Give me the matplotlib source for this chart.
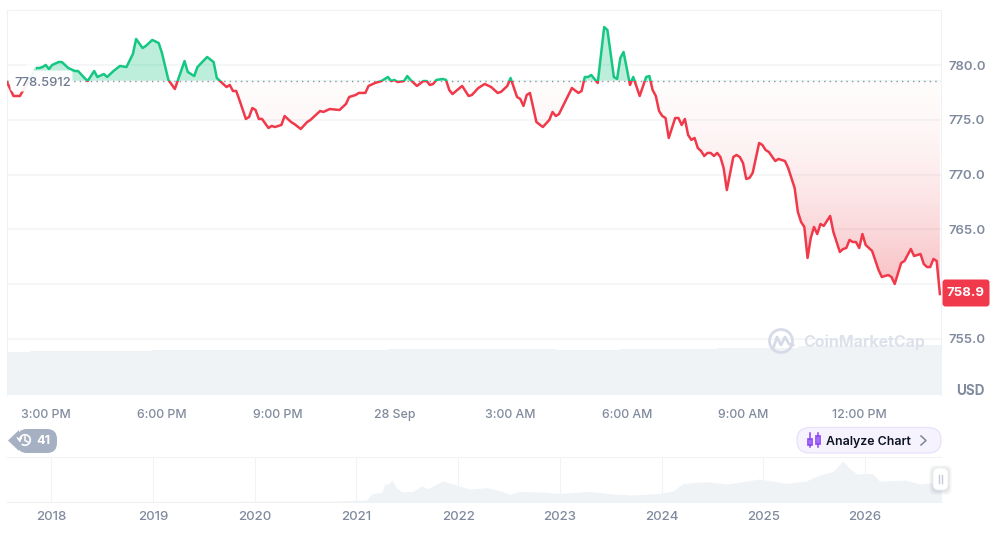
import numpy as np
import matplotlib
matplotlib.use("Agg")
import matplotlib.pyplot as plt
from matplotlib.patches import FancyBboxPatch, Polygon, Circle, Arc, Rectangle
from matplotlib.path import Path

# ---------- data ----------
five_min_index = [0,2,4,9,10,11,12,13,14,16,17,19,21,22,24,25,27,28,30,31,33,35,37,39,40,42,43,45,47,48,50,52,55,56,58,59,62,64,65,68,69,70,71,72,74,75,76,77,78,79,81,82,83,85,86,88,89,91,93,94,97,98,100,103,105,106,108,109,111,112,114,116,118,119,120,121,123,124,125,127,129,130,131,132,133,135,136,137,138,141,143,144,146,148,150,152,153,155,156,158,159,160,161,162,164,166,168,169,170,171,175,177,178,179,180,181,183,185,186,188,189,190,191,193,194,196,198,199,200,201,202,203,204,205,207,208,209,210,211,212,213,214,215,216,217,218,219,220,221,222,223,225,226,227,228,229,230,231,233,234,235,236,238,239,240,241,242,244,245,246,247,248,249,250,251,252,253,255,256,258,259,260,261,262,263,264,265,266,268,270,271,273,274,275,277,278,280,281,283,284,285,286,287,288,289]
price = [778.47,777.19,777.19,779.75,779.75,779.84,780.03,779.66,780.03,780.30,780.30,779.75,779.48,779.48,778.84,778.56,779.48,778.93,779.20,778.93,779.48,779.94,779.84,781.03,782.41,781.58,781.77,782.32,782.04,781.13,778.66,777.83,780.39,779.39,779.02,779.84,780.76,780.30,778.84,778.01,778.20,777.65,777.65,776.83,775.09,775.27,776.09,775.91,775.09,775.09,774.26,774.45,774.35,774.54,775.36,774.81,774.63,774.17,774.81,775.00,775.82,775.73,776.00,775.91,776.46,777.10,777.28,777.47,777.47,778.11,778.38,778.56,778.93,778.56,778.66,778.47,778.56,779.02,778.66,778.11,778.56,778.56,778.20,778.29,778.66,778.75,778.66,777.74,777.37,778.11,777.19,777.28,777.92,778.29,778.01,777.47,777.56,778.11,778.84,777.10,776.92,776.28,777.28,777.47,774.81,774.35,775.00,775.73,775.36,775.54,777.92,777.47,777.65,778.93,778.93,779.11,778.38,783.50,783.23,778.93,778.75,780.67,781.22,778.20,778.93,777.19,778.93,779.02,777.74,777.19,775.82,775.36,775.18,773.35,775.18,775.18,774.54,775.09,773.62,773.17,773.35,772.43,772.16,771.70,771.98,771.98,771.70,771.98,771.61,770.60,768.59,771.61,771.79,771.61,771.06,769.60,769.69,770.15,772.89,772.71,772.25,772.07,771.24,771.43,771.34,771.24,770.60,768.77,766.58,765.66,765.21,762.37,764.20,765.21,764.56,765.48,765.30,766.21,764.75,762.92,763.19,763.28,764.02,763.83,763.83,763.28,764.56,763.56,763.01,761.27,760.63,760.81,760.63,759.99,761.91,762.09,763.19,762.55,762.73,761.82,761.54,761.54,762.28,762.09,759.07]
reference_price = 778.5912
last_price = "758.9"
price_ticks = [755, 760, 765, 770, 775, 780]
price_labels = ["755.0", "", "765.0", "770.0", "775.0", "780.0"]
time_tick_index = [12, 48, 84, 120, 156, 192, 228, 264]
time_labels = ["3:00 PM", "6:00 PM", "9:00 PM", "28 Sep", "3:00 AM", "6:00 AM", "9:00 AM", "12:00 PM"]
volume_index = [0, 7, 29, 45, 60, 90, 118, 150, 170, 190, 220, 245, 270, 289.4]
volume_height = [43, 43.5, 44, 45, 44.5, 45, 45.5, 45.5, 45, 46, 47, 48.5, 49.5, 50.5]
nav_year = [2017.56,2020.77,2021.10,2021.15,2021.25,2021.28,2021.31,2021.35,2021.40,2021.45,2021.55,2021.64,2021.70,2021.85,2021.98,2022.11,2022.28,2022.41,2022.51,2022.60,2022.83,2023.00,2023.29,2023.49,2023.71,2023.98,2024.11,2024.21,2024.44,2024.64,2024.96,2025.23,2025.42,2025.55,2025.68,2025.78,2025.85,2025.92,2026.07,2026.14,2026.40,2026.53,2026.75]
nav_level = [0.3,0.5,1.7,8,9.3,18,17.6,21.7,13,10,10,15.7,13,20.7,16.7,12.7,14,11,7.3,10.3,9.7,8.3,10.3,8,6.7,8.3,10.7,18.3,20,17.7,22.7,18.3,20.7,26.7,30,40.7,33,27.7,28.3,20.7,21.7,17.7,20]
years = [2018, 2019, 2020, 2021, 2022, 2023, 2024, 2025, 2026]

# ---------- styles ----------
W, H = 1006, 535
GREY = "#808a9d"
GREEN = "#16c784"
RED = "#ea3943"
GRID = "#f4f5f7"
plt.rcParams["font.family"] = ["Inter", "DejaVu Sans"]

fig = plt.figure(figsize=(W / 100, H / 100), dpi=100, facecolor="white")

def px_axes(l, t, r, b, **kw):
    return fig.add_axes([l / W, 1 - b / H, (r - l) / W, (b - t) / H], **kw)

ymin, ymax = 749.83, 785.06
xmax = 289.34

# ---------- volume (behind the price axes) ----------
vol = px_axes(7, 10, 941, 395, zorder=0)
vol.set_xlim(0, xmax)
vol.set_ylim(0, 385)
vol.axis("off")
vol.fill_between(volume_index, volume_height, 0, step="post", color="#f0f3f6", lw=0)

# ---------- main price axes ----------
ax = px_axes(7, 10, 941, 395, zorder=1)
ax.set_xlim(0, xmax)
ax.set_ylim(ymin, ymax)
ax.patch.set_visible(False)
for s in ax.spines.values():
    s.set_visible(False)
for s in ("top", "right", "left"):
    ax.spines[s].set_visible(True)
    ax.spines[s].set_color("#eff2f5")
    ax.spines[s].set_linewidth(0.8)
ax.yaxis.tick_right()
ax.set_yticks(price_ticks, price_labels)
ax.set_xticks(time_tick_index, time_labels)
ax.tick_params(axis="y", length=0, pad=5.5, labelsize=9.5, labelcolor=GREY)
ax.tick_params(axis="x", length=0, pad=10, labelsize=8.9, labelcolor=GREY)
for t in ax.get_yticklabels():
    t.set_fontweight("semibold")
for t in ax.get_xticklabels():
    t.set_fontweight("medium")
ax.grid(axis="y", color=GRID, lw=1.2, zorder=0)
ax.set_axisbelow(True)

# gradient fills, clipped to the area between the line and the reference price
x = np.array(five_min_index, float)
y = np.array(price)
area = Path(np.column_stack([np.r_[x[0], x, x[-1]], np.r_[reference_price, y, reference_price]]))

red_img = np.zeros((256, 1, 4))
red_img[..., 0], red_img[..., 1], red_img[..., 2] = 0.918, 0.224, 0.263
red_img[:, 0, 3] = 0.02 + 0.33 * np.linspace(0, 1, 256) ** 1.7
im_r = ax.imshow(red_img, extent=[0, xmax, 758.8, reference_price], origin="upper", aspect="auto", zorder=1.5, interpolation="bilinear")
im_r.set_clip_path(area, ax.transData)

green_img = np.zeros((2, 1, 4))
green_img[..., 0], green_img[..., 1], green_img[..., 2] = 0.086, 0.78, 0.518
green_img[:, 0, 3] = 0.29
im_g = ax.imshow(green_img, extent=[0, xmax, reference_price, ymax], origin="upper", aspect="auto", zorder=1.5)
im_g.set_clip_path(area, ax.transData)

ax.axhline(reference_price, color="#8a8fa3", lw=1.0, dashes=(1, 3), zorder=2)

# line in two colours, split at the reference price
l_up, = ax.plot(x, y, color=GREEN, lw=1.8, zorder=3, solid_joinstyle="round")
l_dn, = ax.plot(x, y, color="#f0394a", lw=1.8, zorder=3, solid_joinstyle="round")
up_rect = Rectangle((0, reference_price), xmax, ymax - reference_price, transform=ax.transData)
dn_rect = Rectangle((0, ymin), xmax, reference_price - ymin, transform=ax.transData)
l_up.set_clip_path(up_rect)
l_dn.set_clip_path(dn_rect)
ax.set_xlim(0, xmax)
ax.set_ylim(ymin, ymax)

# ---------- navigator ----------
nav = px_axes(7, 457, 941, 501.7)
nav.set_xlim(2017.567, 2026.745)
nav.set_ylim(0, 44.7)
nav.set_facecolor("none")
for s in nav.spines.values():
    s.set_visible(False)
nav.spines["top"].set_visible(True)
nav.spines["top"].set_color("#f1f3f6")
nav.spines["bottom"].set_visible(True)
nav.spines["bottom"].set_color("#eff2f5")
nav.fill_between(nav_year, nav_level, 0, color="#f0f3f6", lw=0, zorder=2)
nav.set_xticks(years, [str(v) for v in years])
nav.set_yticks([])
nav.tick_params(axis="x", length=0, pad=7, labelsize=9.5, labelcolor=GREY)
for t in nav.get_xticklabels():
    t.set_fontweight("medium")
nav.grid(axis="x", color="#f1f3f6", lw=0.8, zorder=1)
nav.set_axisbelow(True)

# ---------- overlay UI in pixel coordinates ----------
ui = fig.add_axes([0, 0, 1, 1], zorder=10)
ui.set_xlim(0, W)
ui.set_ylim(H, 0)
ui.axis("off")
ui.patch.set_alpha(0)

# reference label
ui.add_patch(FancyBboxPatch((11, 71), 61, 20, boxstyle="round,pad=0.5,rounding_size=3", fc="white", ec="none", alpha=0.93))
ui.add_patch(Rectangle((26, 64), 10, 8, fc="white", ec="none", alpha=0.6))
ui.text(14, 83, "778.5912", fontsize=9.4, color="#6f7a8f", va="center", ha="left", fontweight="medium")

# price tag
ui.add_patch(FancyBboxPatch((943, 280), 46, 26, boxstyle="round,pad=0.5,rounding_size=3", fc="#f0394a", ec="none"))
ui.text(966, 293.5, last_price, fontsize=9.5, color="white", va="center", ha="center", fontweight="bold")
ui.text(970.5, 391, "USD", fontsize=9.7, color=GREY, va="center", ha="center", fontweight="bold")

# watermark
ui.add_patch(Circle((781, 341), 11.5, fc="none", ec="#d6dbe7", lw=2.0))
ui.plot([773, 777, 781, 785, 789, 793], [349, 337, 345, 337, 344, 345], color="#d6dbe7", lw=2.0, solid_joinstyle="round")
ui.text(803, 342, "CoinMarketCap", fontsize=11.5, color="#dde1ea", va="center", ha="left", fontweight="bold")

# history badge
ui.add_patch(FancyBboxPatch((17, 429), 40, 24, boxstyle="round,pad=0,rounding_size=10", fc="#a6b0c3", ec="none"))
ui.add_patch(Polygon([[8, 440.5], [19, 430], [19, 451]], closed=True, fc="#a6b0c3", ec="none"))
ui.add_patch(Arc((25, 440), 10.5, 10.5, theta1=-200, theta2=130, ec="white", lw=1.2))
ui.plot([25, 25, 28], [436.5, 440.5, 442], color="white", lw=1.1)
ui.plot([17.5, 19.5, 21.5], [438, 440.5, 438], color="white", lw=1.1)
ui.text(43, 440.5, "41", fontsize=9.2, color="white", va="center", ha="center", fontweight="bold")

# analyze button
ui.add_patch(FancyBboxPatch((797, 427.5), 144, 25.5, boxstyle="round,pad=0,rounding_size=12.7", fc="#f6f3ff", ec="#e7e1fb", lw=0.9))
for cx in (810.5, 818.5):
    ui.plot([cx, cx], [433, 447], color="#8b45f6", lw=1.1)
ui.add_patch(Rectangle((808.5, 438.5), 4, 6, fc="#f6f3ff", ec="#8b45f6", lw=1.2))
ui.add_patch(Rectangle((816.5, 435.5), 4, 8, fc="#f6f3ff", ec="#8b45f6", lw=1.2))
ui.text(826, 441.5, "Analyze Chart", fontsize=8.9, color="#0d1421", va="center", ha="left", fontweight="semibold")
ui.plot([921, 926, 921], [436, 440.5, 445], color="#7d8698", lw=1.1)

# navigator handle
for off, alpha in ((4, 0.03), (3, 0.04), (2, 0.05), (1, 0.06)):
    ui.add_patch(FancyBboxPatch((933 - off, 468 - off + 1), 15 + 2 * off, 22 + 2 * off, boxstyle="round,pad=0,rounding_size=6", fc="#5a6478", ec="none", alpha=alpha))
ui.add_patch(FancyBboxPatch((933, 468), 15, 22, boxstyle="round,pad=0,rounding_size=6", fc="white", ec="#eef0f4", lw=0.6))
for cx in (939, 942.5):
    ui.plot([cx, cx], [475, 483], color="#c5cbd6", lw=1.0)

fig.savefig("out.png", dpi=100, facecolor="white")
